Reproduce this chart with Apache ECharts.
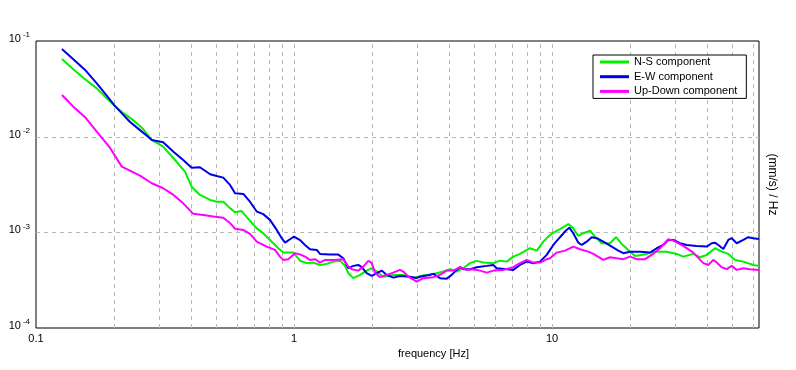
<!DOCTYPE html>
<html>
<head>
<meta charset="utf-8">
<script src="https://cdn.jsdelivr.net/npm/echarts@6/dist/echarts.min.js"></script>
<style>
html,body{margin:0;padding:0;background:#fff;}
#chart{width:796px;height:370px;}
</style>
</head>
<body>
<div id="chart"></div>
<script>
// ---- data ----
const seriesNames = ['N-S component', 'E-W component', 'Up-Down component'];
const seriesColors = ['#00f000', '#0000e8', '#ff00ff'];

const freqNS = [0.126,0.1395,0.155,0.172,0.188,0.201,0.218,0.238,0.260,0.281,0.311,0.341,0.378,0.401,0.432,0.473,0.502,0.532,0.565,0.591,0.627,0.656,0.717,0.760,0.807,0.869,0.909,0.994,1.055,1.12,1.188,1.261,1.339,1.421,1.508,1.577,1.624,1.698,1.803,1.913,2.001,2.092,2.218,2.426,2.652,2.900,3.079,3.268,3.574,3.792,4.025,4.272,4.531,4.811,5.108,5.418,5.923,6.287,6.674,7.079,7.516,8.218,8.724,9.254,9.822,10.12,10.74,11.57,12.09,12.65,13.23,14.04,14.68,15.58,16.78,17.70,18.63,19.76,20.98,23.29,24.70,27.84,30.43,32.28,35.29,37.47,39.78,42.83,45.48,48.23,51.20,55.14,60.28,63.43];
const valNS = [0.0649,0.0506,0.0398,0.0320,0.0252,0.0211,0.0176,0.0149,0.0120,0.00924,0.00786,0.00595,0.00431,0.0030,0.00246,0.00218,0.00209,0.00209,0.00179,0.00162,0.00167,0.00144,0.0011,0.000979,0.000833,0.000682,0.000614,0.000614,0.000505,0.000476,0.000483,0.000456,0.000468,0.000494,0.000506,0.000446,0.000374,0.000332,0.000359,0.000398,0.000422,0.000389,0.000344,0.000359,0.000359,0.000332,0.00035,0.000359,0.000374,0.000389,0.000412,0.000389,0.000422,0.000476,0.000503,0.000483,0.000476,0.000506,0.000494,0.000557,0.000595,0.000682,0.000644,0.000799,0.000939,0.000993,0.00108,0.00122,0.0011,0.000917,0.000979,0.00104,0.000902,0.000769,0.000769,0.000889,0.000757,0.000655,0.000567,0.000595,0.000628,0.000628,0.000595,0.000557,0.000595,0.000549,0.000581,0.000682,0.000628,0.000595,0.000515,0.000494,0.000456,0.000446];

const freqEW = [0.126,0.1395,0.155,0.172,0.188,0.201,0.218,0.231,0.253,0.269,0.281,0.311,0.341,0.372,0.401,0.432,0.473,0.502,0.532,0.565,0.591,0.636,0.675,0.717,0.760,0.807,0.857,0.896,0.923,0.965,1.0,1.055,1.103,1.153,1.225,1.261,1.379,1.485,1.553,1.624,1.698,1.775,1.830,1.913,2.001,2.092,2.187,2.287,2.426,2.575,2.816,2.990,3.171,3.366,3.467,3.681,3.909,4.086,4.272,4.400,4.531,4.811,5.108,5.585,5.923,6.106,6.674,7.079,7.516,7.979,8.464,8.985,9.539,9.822,10.12,10.74,11.23,11.67,12.09,12.65,13.04,13.63,14.25,14.91,15.81,17.04,18.07,18.90,20.06,21.94,23.98,25.46,27.01,28.24,29.53,31.34,33.27,36.38,39.78,41.59,42.83,44.12,46.13,48.23,49.71,51.99,55.14,57.66,60.28,63.43];
const valEW = [0.0825,0.0644,0.0498,0.0361,0.0268,0.0214,0.0169,0.0143,0.0117,0.0102,0.00924,0.00874,0.00697,0.00571,0.00474,0.00479,0.00405,0.00388,0.00373,0.00313,0.00256,0.00252,0.00209,0.00165,0.00155,0.00135,0.00106,0.000868,0.00078,0.000847,0.000902,0.00083,0.000738,0.000666,0.000655,0.000595,0.000585,0.000585,0.000536,0.000422,0.000446,0.000456,0.000432,0.000374,0.00035,0.000374,0.000398,0.000359,0.000336,0.00035,0.000344,0.000334,0.00035,0.000359,0.000368,0.000332,0.000328,0.000359,0.000405,0.000432,0.000412,0.000412,0.000432,0.000446,0.000456,0.000422,0.000412,0.000405,0.000456,0.000494,0.000476,0.000494,0.000581,0.000655,0.000738,0.000889,0.00102,0.00112,0.000979,0.00078,0.000738,0.000799,0.000889,0.000868,0.000799,0.000709,0.000644,0.000605,0.000628,0.000628,0.000614,0.000682,0.000738,0.000833,0.000833,0.000769,0.000738,0.000721,0.000709,0.000769,0.00078,0.000738,0.000671,0.000833,0.000868,0.000769,0.000833,0.000889,0.000868,0.000853];

const freqUD = [0.126,0.1395,0.155,0.172,0.194,0.215,0.231,0.253,0.281,0.311,0.341,0.372,0.407,0.445,0.487,0.532,0.565,0.591,0.636,0.675,0.717,0.784,0.844,0.882,0.909,0.950,1.009,1.055,1.103,1.153,1.206,1.261,1.319,1.421,1.553,1.624,1.674,1.775,1.856,1.941,2.001,2.061,2.154,2.287,2.426,2.575,2.652,2.773,2.990,3.171,3.467,3.681,3.909,4.144,4.400,4.671,4.955,5.261,5.585,5.923,6.475,7.079,7.516,7.979,8.464,8.985,9.539,9.822,10.43,11.23,12.09,12.84,13.83,14.46,15.81,16.78,17.82,18.90,20.06,21.30,22.94,24.35,26.22,28.24,29.53,32.28,35.29,38.59,40.35,42.19,43.49,45.48,47.54,49.71,51.99,55.14,58.53,63.43];
const valUD = [0.0273,0.0206,0.0160,0.0113,0.00757,0.00486,0.00441,0.00391,0.00326,0.00289,0.00246,0.00201,0.00156,0.00152,0.00146,0.00142,0.00125,0.00109,0.00106,0.000962,0.000799,0.000709,0.000655,0.000557,0.000515,0.000524,0.000605,0.000588,0.000557,0.000515,0.000524,0.000483,0.000515,0.000515,0.000524,0.000438,0.000412,0.000398,0.000438,0.000503,0.000476,0.000379,0.00034,0.000359,0.000379,0.000405,0.000389,0.000344,0.000305,0.000332,0.00034,0.000359,0.000398,0.000398,0.000432,0.000405,0.000412,0.000398,0.000379,0.000398,0.000405,0.000432,0.000476,0.000515,0.000483,0.000483,0.000524,0.000536,0.000614,0.000644,0.000709,0.000666,0.000628,0.000595,0.000515,0.000549,0.000536,0.000524,0.000557,0.000524,0.000524,0.000581,0.000682,0.000847,0.000819,0.000721,0.000614,0.000476,0.000456,0.000515,0.000483,0.000432,0.000412,0.000446,0.000405,0.000422,0.000412,0.000405];

const xMin = 0.1, xMax = 63.43;
const yMin = 1e-4, yMax = 1e-1;
const xTickLabels = [0.1, 1, 10];
const xGridValues = [0.2,0.3,0.4,0.5,0.6,0.7,0.8,0.9,1,2,3,4,5,6,7,8,9,10,20,30,40,50,60];
const yGridValues = [1e-3, 1e-2];

// ---- chart ----
const zip = (f, v) => f.map((x, i) => [x, v[i]]);
const isPow10 = v => Math.abs(Math.log10(v) - Math.round(Math.log10(v))) < 1e-6;
const FONT = "'Liberation Sans', Arial, sans-serif";
const GRID_STYLE = {stroke: '#b8b8b8', lineWidth: 1, lineDash: [4, 4]};

const chart = echarts.init(document.getElementById('chart'), null, {renderer: 'canvas'});
chart.setOption({
  animation: false,
  backgroundColor: '#fff',
  textStyle: {fontFamily: FONT},
  grid: {left: 36, right: 37, top: 41, bottom: 42, show: true, borderColor: '#000', borderWidth: 1, backgroundColor: 'transparent'},
  legend: {
    orient: 'vertical', left: 593, top: 55,
    data: seriesNames,
    icon: 'rect', itemWidth: 29, itemHeight: 3, itemGap: 2.7,
    padding: [1, 9, 1, 7],
    borderColor: '#000', borderWidth: 1, backgroundColor: '#fff',
    textStyle: {fontFamily: FONT, fontSize: 11, color: '#000', lineHeight: 12}
  },
  xAxis: {
    type: 'log', logBase: 10, min: xMin, max: xMax,
    name: 'frequency [Hz]', nameLocation: 'middle', nameGap: 13,
    nameTextStyle: {fontFamily: FONT, fontSize: 11, color: '#000', padding: [0, 0, 0, 72]},
    axisLine: {show: false}, axisTick: {show: false}, splitLine: {show: false},
    axisLabel: {
      fontFamily: FONT, fontSize: 11, color: '#000', margin: 5,
      showMinLabel: true, showMaxLabel: false,
      formatter: v => xTickLabels.some(t => Math.abs(t - v) / t < 1e-6) ? String(v) : ''
    }
  },
  yAxis: [{
    type: 'log', logBase: 10, min: yMin, max: yMax,
    axisLine: {show: false}, axisTick: {show: false},
    splitLine: {show: false},
    axisLabel: {
      margin: 6, color: '#000', padding: [0, 0, 4, 0],
      formatter: v => isPow10(v) ? '{b|10}{s|' + Math.round(Math.log10(v)) + '}' : '',
      rich: {
        b: {fontFamily: FONT, fontSize: 11, color: '#000', lineHeight: 16},
        s: {fontFamily: FONT, fontSize: 8, color: '#000', verticalAlign: 'top', padding: [0, 0, 0, 2]}
      }
    }
  }, {
    type: 'log', logBase: 10, min: yMin, max: yMax, position: 'right',
    axisLine: {show: false}, axisTick: {show: false}, axisLabel: {show: false}, splitLine: {show: false},
    name: '(mm/s) / Hz', nameLocation: 'middle', nameRotate: -90, nameGap: 7,
    nameTextStyle: {fontFamily: FONT, fontSize: 12, color: '#000'}
  }],
  series: [{
    type: 'custom', name: 'xgrid', silent: true, z: 1,
    coordinateSystem: 'cartesian2d',
    data: xGridValues.map(v => [v, yMin]),
    renderItem: (params, api) => {
      const v = api.value(0);
      const p1 = api.coord([v, yMin]);
      const p2 = api.coord([v, yMax]);
      const x = Math.round(p1[0]) + 0.5;
      return {type: 'line', shape: {x1: x, y1: p1[1], x2: x, y2: p2[1]}, style: GRID_STYLE};
    }
  }, {
    type: 'custom', name: 'ygrid', silent: true, z: 1,
    coordinateSystem: 'cartesian2d',
    data: yGridValues.map(v => [xMin, v]),
    renderItem: (params, api) => {
      const v = api.value(1);
      const p1 = api.coord([xMin, v]);
      const p2 = api.coord([xMax, v]);
      const y = Math.round(p1[1]) + 0.5;
      return {type: 'line', shape: {x1: p1[0], y1: y, x2: p2[0], y2: y}, style: GRID_STYLE};
    }
  }].concat([zip(freqNS, valNS), zip(freqEW, valEW), zip(freqUD, valUD)].map((d, i) => ({
    type: 'line', name: seriesNames[i], data: d, z: 3,
    showSymbol: false, symbol: 'none', smooth: false,
    lineStyle: {color: seriesColors[i], width: 2},
    itemStyle: {color: seriesColors[i]},
    clip: true
  })))
});
</script>
</body>
</html>
